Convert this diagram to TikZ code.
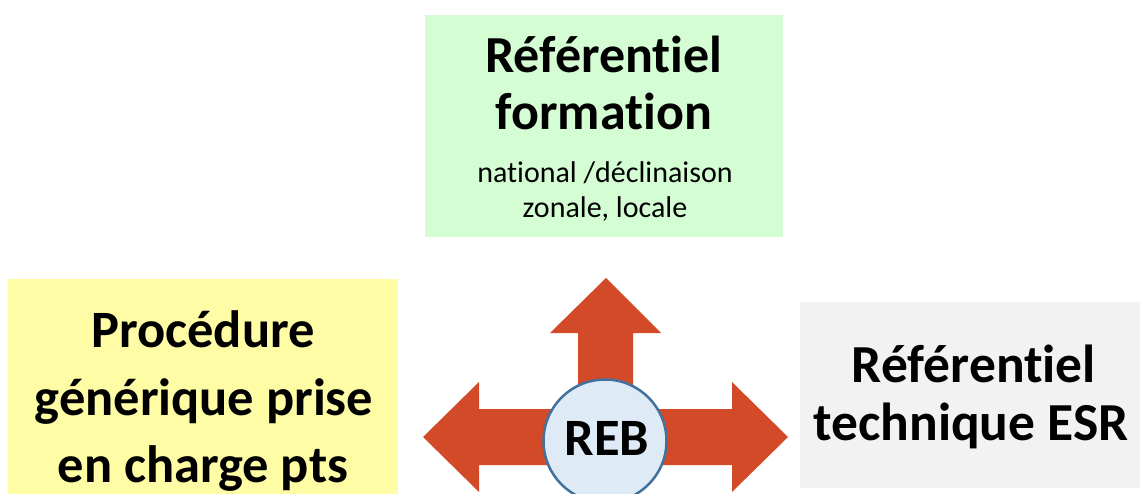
\documentclass[tikz,border=0pt]{standalone}
\usepackage{fontspec}
\setmainfont{Carlito}[Ligatures=NoCommon]
\definecolor{arrowred}{HTML}{D24A27}
\definecolor{boxgreen}{HTML}{D4FDD4}
\definecolor{boxyellow}{HTML}{FFFCA6}
\definecolor{boxgray}{HTML}{F2F2F2}
\definecolor{circfill}{HTML}{DEEBF7}
\definecolor{circline}{HTML}{41719C}
\begin{document}
\begin{tikzpicture}[x=1pt,y=-1pt,
  box/.style={draw=none,inner sep=0pt,anchor=north west},
  big/.style={anchor=base,inner sep=0pt,font=\bfseries\fontsize{52}{57}\selectfont},
  bigger/.style={anchor=base,inner sep=0pt,font=\bfseries\fontsize{52.5}{60}\selectfont},
  biggray/.style={anchor=base,inner sep=0pt,font=\bfseries\fontsize{53.5}{60}\selectfont},
  small/.style={anchor=base,inner sep=0pt,font=\fontsize{30}{34}\selectfont}]
\useasboundingbox (0,0) rectangle (1140,494);
\clip (0,0) rectangle (1140,494);
% boxes
\node[box,fill=boxgreen,minimum width=358pt,minimum height=222pt] (green) at (425,15) {};
\node[box,fill=boxyellow,minimum width=390pt,minimum height=240pt] (yellow) at (8,279) {};
\node[box,fill=boxgray,minimum width=345pt,minimum height=186pt] (gray) at (800,302) {};
% texts
\node[big] (g1) at (604,73) {Référentiel};
\node[big] (g2) at (604,130) {formation};
\node[small] (g3) at (605,183) {national /déclinaison};
\node[small] (g4) at (605,218) {zonale, locale};
\node[bigger] (y1) at (203,347) {Procédure};
\node[bigger] (y2) at (204,415) {générique prise};
\node[bigger] (y3) at (203,482) {en charge pts};
\node[biggray] (r1) at (974,382) {Référentiel};
\node[biggray] (r2) at (971,440) {technique ESR};
% arrows
\fill[arrowred] (423,437) -- (479,382) -- (479,409) -- (578,409) -- (578,333) -- (550,333)
  -- (606,278) -- (661,333) -- (633,333) -- (633,409) -- (732,409) -- (732,382)
  -- (788,437) -- (732,492) -- (732,465) -- (479,465) -- (479,492) -- cycle;
% circle
\node[circle,draw=circline,line width=2.5pt,fill=circfill,minimum size=123pt,inner sep=0pt] (reb) at (605,441) {};
\node[anchor=base,inner sep=0pt,font=\bfseries\fontsize{52.5}{57}\selectfont] (rebt) at (607,455) {REB};
\end{tikzpicture}
\end{document}
